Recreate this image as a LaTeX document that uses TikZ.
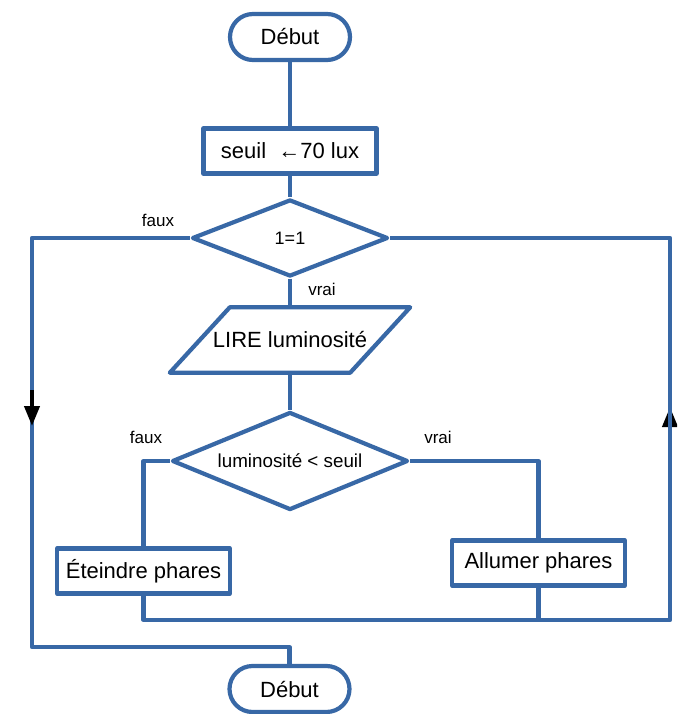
\documentclass[tikz,border=0pt]{standalone}
\usepackage{fontspec}
\setmainfont{Liberation Sans}
\usetikzlibrary{shapes.geometric,arrows.meta}
\definecolor{flowblue}{RGB}{56,104,166}
\tikzset{
  flow/.style={draw=flowblue, line width=4.2pt, line join=round},
  terminal/.style={flow, rectangle, rounded corners=23pt, minimum width=120pt, minimum height=46pt, inner sep=0pt, font=\fontsize{22}{26}\selectfont},
  action/.style={flow, rectangle, minimum width=173pt, minimum height=45pt, inner sep=0pt, font=\fontsize{22}{26}\selectfont},
  test/.style={flow, diamond, inner sep=0pt, aspect=2.45},
  iotext/.style={rectangle, minimum width=240pt, minimum height=65pt, inner sep=0pt, font=\fontsize{22}{26}\selectfont},
  link/.style={draw=flowblue, line width=4.2pt, line join=round},
  tag/.style={font=\fontsize{17}{20}\selectfont, inner sep=0pt},
  flowhead/.style={draw=black, line width=4pt, -{Triangle[length=20pt, width=15pt]}}
}
\begin{document}
\begin{tikzpicture}[x=1pt, y=-1pt]
  \useasboundingbox (0,0) rectangle (677,714);
  \clip (0,0) rectangle (677,714);
  \fill[white] (0,0) rectangle (677,714);

  % blocks
  \node[terminal] (debut) at (290,37) {Début};
  \node[action] (seuil) at (290,151) {seuil \ ←70 lux};
  \node[test, minimum width=196pt, minimum height=77pt, font=\fontsize{18}{22}\selectfont] (boucle) at (290,238) {1=1};
  \node[iotext] (lire) at (290,340) {LIRE luminosité};
  % input parallelogram drawn around the text node, slanted 60pt
  \draw[flow] ([xshift=60pt]lire.north west) -- (lire.north east)
    -- ([xshift=-60pt]lire.south east) -- (lire.south west) -- cycle;
  \node[test, minimum width=236pt, minimum height=98pt, font=\fontsize{18.8}{22}\selectfont] (cmp) at (290,461) {luminosité < seuil};
  \node[action] (eteindre) at (143.5,571) {Éteindre phares};
  \node[action] (allumer) at (538.5,563) {Allumer phares};
  \node[terminal] (fin) at (289.5,689) {Début};

  % branch labels
  \node[tag] (faux1) at (158,220) {faux};
  \node[tag] (vrai1) at (322,289) {vrai};
  \node[tag] (faux2) at (146,437) {faux};
  \node[tag] (vrai2) at (438,437) {vrai};

  % routing points
  \coordinate (gauche) at (32,647);
  \coordinate (droite) at (670,620);
  \coordinate (up1) at (670,440);
  \coordinate (up2) at (670,407);
  \coordinate (down1) at (32,390);
  \coordinate (down2) at (32,426);

  % up arrow on the loop back, under the line
  \draw[flowhead] (up1) -- (up2);

  % connectors
  \draw[link] (debut) -- (seuil);
  \draw[link] (seuil) -- (boucle);
  \draw[link] (boucle) -- (lire);
  \draw[link] (lire) -- (cmp);
  \draw[link] (cmp.west) -| (eteindre.north);
  \draw[link] (cmp.east) -| (allumer.north);
  \draw[link] (eteindre.south) |- (droite) |- (boucle.east);
  \draw[link] (allumer.south) -- (allumer.south |- droite);
  \draw[link] (boucle.west) -| (gauche) -| (fin.north);

  % down arrow on the exit path
  \draw[flowhead] (down1) -- (down2);
\end{tikzpicture}
\end{document}
